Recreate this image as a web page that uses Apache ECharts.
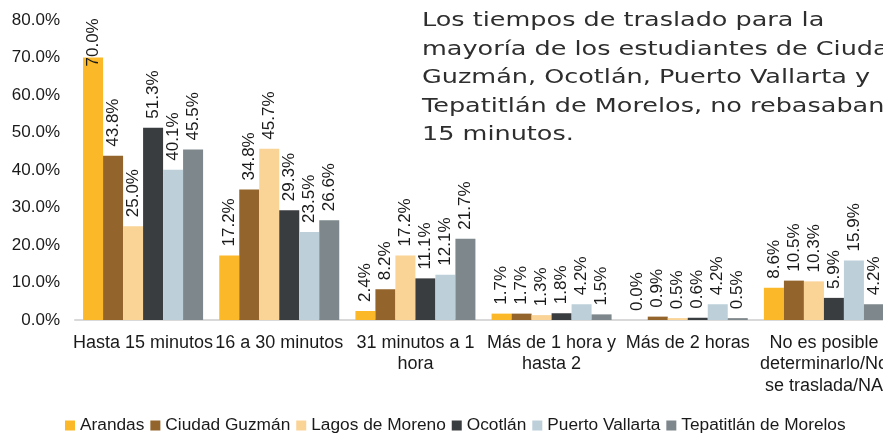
<!DOCTYPE html>
<html>
<head>
<meta charset="utf-8">
<script src="https://cdn.jsdelivr.net/npm/echarts@6/dist/echarts.min.js"></script>
<style>
  html, body { margin: 0; padding: 0; background: #fff; }
  #chart { width: 883px; height: 433px; }
</style>
</head>
<body>
<div id="chart"></div>
<script>
  // categorías del eje x
  const categories = [
    'Hasta 15 minutos',
    '16 a 30 minutos',
    '31 minutos a 1\nhora',
    'Más de 1 hora y\nhasta 2',
    'Más de 2 horas',
    'No es posible\ndeterminarlo/No\nse traslada/NA'
  ]
  const seriesNames = ['Arandas', 'Ciudad Guzmán', 'Lagos de Moreno', 'Ocotlán', 'Puerto Vallarta', 'Tepatitlán de Morelos']
  const arandas = [70.0, 17.2, 2.4, 1.7, 0.0, 8.6]
  const ciudadGuzman = [43.8, 34.8, 8.2, 1.7, 0.9, 10.5]
  const lagosMoreno = [25.0, 45.7, 17.2, 1.3, 0.5, 10.3]
  const ocotlan = [51.3, 29.3, 11.1, 1.8, 0.6, 5.9]
  const puertoVallarta = [40.1, 23.5, 12.1, 4.2, 4.2, 15.9]
  const tepatitlan = [45.5, 26.6, 21.7, 1.5, 0.5, 4.2]
  const yTicks = [0, 10, 20, 30, 40, 50, 60, 70, 80]
  const note = 'Los tiempos de traslado para la\nmayoría de los estudiantes de Ciudad\nGuzmán, Ocotlán, Puerto Vallarta y\nTepatitlán de Morelos, no rebasaban\n15 minutos.'

  const colors = ['#FBB829', '#93642B', '#FAD396', '#3A3D40', '#BDCFD8', '#7E878C']
  const allValues = [arandas, ciudadGuzman, lagosMoreno, ocotlan, puertoVallarta, tepatitlan]

  const myChart = echarts.init(document.getElementById('chart'))

  const series = seriesNames.map(function (name, i) {
    return {
      name: name,
      type: 'bar',
      barWidth: 20,
      barGap: 0,
      data: allValues[i].map(function (v) {
        // la etiqueta del 70% queda encimada sobre la barra
        if (v === 70.0) {
          return { value: v, label: { distance: -9 } }
        }
        return v
      }),
      itemStyle: { color: colors[i] },
      label: {
        show: true,
        position: 'top',
        rotate: 90,
        align: 'left',
        verticalAlign: 'middle',
        distance: 9,
        fontFamily: 'Liberation Sans',
        fontSize: 17,
        color: '#1a1a1a',
        formatter: function (p) {
          return p.value.toFixed(1) + '%'
        }
      }
    }
  })

  const option = {
    animation: false,
    backgroundColor: '#fff',
    color: colors,
    grid: {
      left: 75,
      top: 20,
      width: 817,
      bottom: 113,
      outerBoundsMode: 'none'
    },
    legend: {
      data: seriesNames,
      left: 60,
      top: 412,
      icon: 'rect',
      itemWidth: 10,
      itemHeight: 10,
      itemGap: 6,
      textStyle: {
        fontFamily: 'Liberation Sans',
        fontSize: 17.3,
        color: '#1a1a1a'
      }
    },
    xAxis: {
      type: 'category',
      data: categories,
      axisLine: { lineStyle: { color: '#d9d9d9', width: 2 } },
      axisTick: { show: false },
      axisLabel: {
        interval: 0,
        margin: 12,
        fontFamily: 'Liberation Sans',
        fontSize: 18,
        lineHeight: 21.5,
        color: '#1a1a1a'
      }
    },
    yAxis: {
      type: 'value',
      min: yTicks[0],
      max: yTicks[yTicks.length - 1],
      interval: 10,
      splitLine: { show: false },
      axisLine: { show: false },
      axisTick: { show: false },
      axisLabel: {
        margin: 15,
        fontFamily: 'Liberation Sans',
        fontSize: 17,
        color: '#1a1a1a',
        formatter: function (v) {
          return v.toFixed(1) + '%'
        }
      }
    },
    graphic: [
      {
        type: 'text',
        x: 422,
        y: 7,
        scaleX: 1.275,
        style: {
          text: note,
          font: '20px "DejaVu Sans"',
          fill: '#2e2e2e',
          lineHeight: 28.5
        }
      }
    ],
    series: series
  }

  myChart.setOption(option, true)
</script>
</body>
</html>
